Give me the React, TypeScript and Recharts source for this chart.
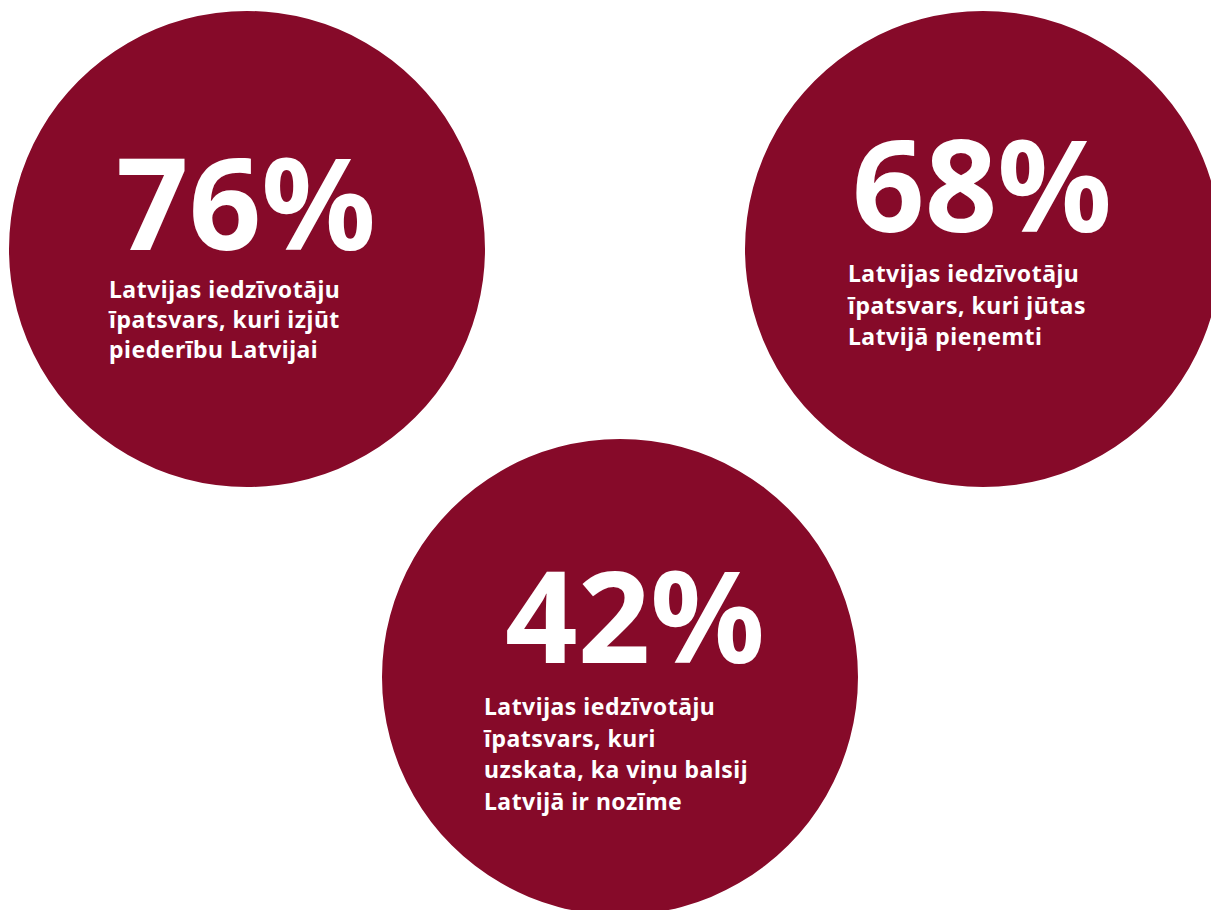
import { PieChart, Pie } from 'recharts';

// shares of residents, %
const shares = [76, 68, 42];

const captions = [
  ['Latvijas iedzīvotāju', 'īpatsvars, kuri izjūt', 'piederību Latvijai'],
  ['Latvijas iedzīvotāju', 'īpatsvars, kuri jūtas', 'Latvijā pieņemti'],
  ['Latvijas iedzīvotāju', 'īpatsvars, kuri', 'uzskata, ka viņu balsij', 'Latvijā ir nozīme'],
];

// layout only: where each bubble sits and where its text starts
const layout = [
  { cx: 247, cy: 249, bigX: -131, bigY: 1, textX: -138, textY: 49, gap: 30 },
  { cx: 983, cy: 249, bigX: -131, bigY: -17, textX: -135, textY: 33, gap: 31.5 },
  { cx: 620, cy: 677, bigX: -115, bigY: -14, textX: -136, textY: 38, gap: 31.5 },
];

const WIDTH = 1211;
const HEIGHT = 910;
const RADIUS = 238;
const FILL = '#860a29';
const FONT = '"Noto Sans", "Open Sans", sans-serif';

const makeLabel = (i: number) => (props: any) => {
  const l = layout[i];
  const cx = props.cx ?? l.cx;
  const cy = props.cy ?? l.cy;
  return (
    <g>
      <text
        x={cx + l.bigX}
        y={cy + l.bigY}
        fill='#fff'
        fontFamily={FONT}
        fontWeight={700}
        fontSize={127}
        textAnchor='start'
      >
        {`${props.value}%`}
      </text>
      {captions[i].map((line, j) => (
        <text
          key={j}
          x={cx + l.textX}
          y={cy + l.textY + j * l.gap}
          fill='#fff'
          fontFamily={FONT}
          fontWeight={700}
          fontSize={23}
          letterSpacing={0.5}
          textAnchor='start'
        >
          {line}
        </text>
      ))}
    </g>
  );
};

export default function App() {
  return (
    <div style={{ position: 'absolute', left: 0, top: 0, width: WIDTH, height: HEIGHT, background: '#fff' }}>
      <PieChart width={WIDTH} height={HEIGHT} margin={{ top: 0, right: 0, bottom: 0, left: 0 }}>
        {shares.map((v, i) => (
          <Pie
            key={i}
            data={[{ name: captions[i].join(' '), value: v }]}
            dataKey='value'
            cx={layout[i].cx}
            cy={layout[i].cy}
            innerRadius={0}
            outerRadius={RADIUS}
            startAngle={90}
            endAngle={-270}
            fill={FILL}
            stroke='none'
            labelLine={false}
            label={makeLabel(i)}
            isAnimationActive={false}
          />
        ))}
      </PieChart>
    </div>
  );
}
